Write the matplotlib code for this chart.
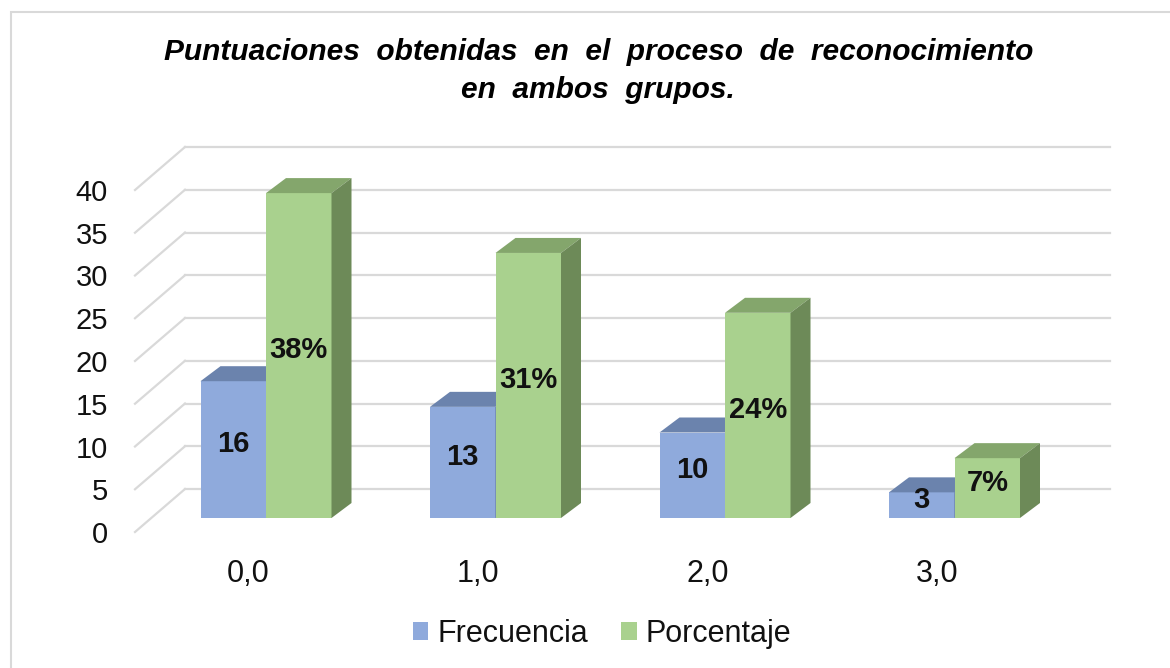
import numpy as np
import matplotlib.pyplot as plt
from matplotlib.patches import Polygon, Rectangle

# --- Data ---
categories = ['0,0', '1,0', '2,0', '3,0']
frecuencia = [16, 13, 10, 3]
porcentaje = [38, 31, 24, 7]
porcentaje_labels = ['38%', '31%', '24%', '7%']
y_ticks = [0, 5, 10, 15, 20, 25, 30, 35, 40]

plt.rcParams['font.family'] = ['Liberation Sans', 'DejaVu Sans']

# pixel scale of the Excel-like pseudo 3D layout
W, H = 1170, 668
PX_X = 229.5      # pixels per category step
PX_Y = 8.55       # pixels per value unit
X0, Y0 = 266, 518  # pixel of group 0 center / value 0 on bar front


def px_x(p):
    return (p - X0) / PX_X


def px_dy(p):
    return p / PX_Y


fig = plt.figure(figsize=(W / 100, H / 100), dpi=100)
ax = fig.add_axes([0, 0, 1, 1])
ax.set_xlim(px_x(0), px_x(W))
ax.set_ylim((Y0 - H) / PX_Y, Y0 / PX_Y)
ax.axis('off')

# outer chart frame
fig.patches.append(Rectangle((11 / W, -0.1), 1.2, 1 - 12 / H + 0.1,
                             transform=fig.transFigure, fill=False,
                             edgecolor='#d9d9d9', linewidth=1.5))

# --- walls / gridlines ---
grid_c = '#d9d9d9'
back_dy = px_dy(29)
front_dy = -px_dy(14)
x_back_l, x_back_r, x_front_l = px_x(185), px_x(1110), px_x(135)
for v in y_ticks:
    ax.plot([x_back_l, x_back_r], [v + back_dy, v + back_dy], color=grid_c, lw=1.6, zorder=1)
    ax.plot([x_front_l, x_back_l], [v + front_dy, v + back_dy], color=grid_c, lw=1.6, zorder=1)
    ax.text(px_x(108), v + front_dy, str(v), ha='right', va='center_baseline',
            fontsize=21, color='#111111')

# --- bars ---
bw = 65.5 / PX_X
ddx = 20 / PX_X
ddy = px_dy(15)
x = np.arange(len(categories))

series = [
    (x - bw, frecuencia, 'Frecuencia', '#8faadc', '#6b83ad', '#5f7699'),
    (x, porcentaje, 'Porcentaje', '#a9d18e', '#84a66c', '#6d8a58'),
]
handles = []
for xs, vals, name, c_front, c_top, c_side in series:
    b = ax.bar(xs, vals, width=bw, align='edge', color=c_front, label=name,
               linewidth=0, zorder=3)
    handles.append(b)
    for xi, v in zip(xs, vals):
        top = [(xi, v), (xi + ddx, v + ddy), (xi + bw + ddx, v + ddy), (xi + bw, v)]
        side = [(xi + bw, 0), (xi + bw + ddx, ddy), (xi + bw + ddx, v + ddy), (xi + bw, v)]
        ax.add_patch(Polygon(top, closed=True, facecolor=c_top, edgecolor='none', zorder=3))
        ax.add_patch(Polygon(side, closed=True, facecolor=c_side, edgecolor='none', zorder=3))

# value labels
for xi, v in zip(x - bw / 2, frecuencia):
    ax.text(xi, v / 2 + 1.0, str(v), ha='center', va='center_baseline',
            fontsize=21, fontweight='bold', color='#111111', zorder=5)
for xi, v, lab in zip(x + bw / 2, porcentaje, porcentaje_labels):
    ax.text(xi, v / 2 + 1.0, lab, ha='center', va='center_baseline',
            fontsize=21, fontweight='bold', color='#111111', zorder=5)

# category labels
for xi, lab in zip(x, categories):
    ax.text(xi - 17.5 / PX_X, px_dy(Y0 - 570), lab, ha='center', va='center_baseline',
            fontsize=22, color='#111111')

# --- title ---
fig.text(599 / W, 1 - 60 / H, 'Puntuaciones  obtenidas  en  el  proceso  de  reconocimiento',
         ha='center', va='baseline', fontsize=21.5, fontweight='bold', style='italic')
fig.text(598 / W, 1 - 98 / H, 'en  ambos  grupos.',
         ha='center', va='baseline', fontsize=21.5, fontweight='bold', style='italic')

# --- legend ---
fig.legend(handles=handles, loc='center', bbox_to_anchor=(602 / W, 1 - 634 / H),
           ncol=2, frameon=False, fontsize=22, handlelength=0.5, handleheight=0.5,
           handletextpad=0.3, columnspacing=1.1, labelcolor='#111111')

fig.savefig('out.png', dpi=100)
